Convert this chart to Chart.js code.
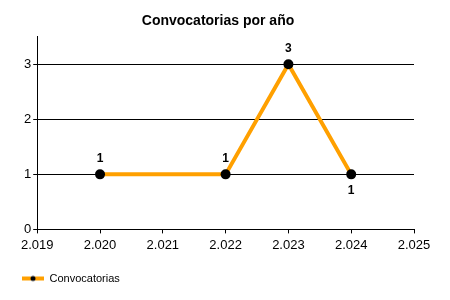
<!DOCTYPE html>
<html>
<head>
<meta charset="utf-8">
<script src="https://cdn.jsdelivr.net/npm/chart.js@4"></script>
<style>
  body { margin: 0; background: #fff; }
  #wrap { width: 450px; height: 300px; }
</style>
</head>
<body>
<div id="wrap"><canvas id="chart" width="450" height="300"></canvas></div>
<script>
// Data
const years = [2020, 2022, 2023, 2024];
const counts = [1, 1, 3, 1];
const seriesName = 'Convocatorias';
const chartTitle = 'Convocatorias por año';

const FONT = "'Liberation Sans', Arial, sans-serif";
const ORANGE = '#FFA000';

// legend icon: orange line with black dot
function legendIcon() {
  const c = document.createElement('canvas');
  c.width = 22; c.height = 8;
  const g = c.getContext('2d');
  g.fillStyle = ORANGE;
  g.fillRect(0, 2, 22, 4);
  g.fillStyle = '#000';
  g.beginPath();
  g.arc(11, 4, 2.5, 0, Math.PI * 2);
  g.fill();
  return c;
}

// draws value labels next to each point
const valueLabels = {
  id: 'valueLabels',
  afterLayout(chart) {
    // nudge the legend toward the left edge
    chart.legend.left -= 10;
    chart.legend.right -= 10;
  },
  afterDatasetsDraw(chart) {
    const ctx = chart.ctx;
    const meta = chart.getDatasetMeta(0);
    ctx.save();
    ctx.font = 'bold 12px ' + FONT;
    ctx.fillStyle = '#000';
    ctx.textAlign = 'center';
    ctx.textBaseline = 'middle';
    meta.data.forEach((pt, i) => {
      const below = i === meta.data.length - 1;
      ctx.fillText(String(counts[i]), pt.x, pt.y + (below ? 16 : -16));
    });
    ctx.restore();
  }
};

const ctx = document.getElementById('chart').getContext('2d');
new Chart(ctx, {
  type: 'line',
  data: {
    datasets: [{
      label: seriesName,
      data: years.map((y, i) => ({ x: y, y: counts[i] })),
      borderColor: ORANGE,
      borderWidth: 4,
      backgroundColor: '#000',
      pointBackgroundColor: '#000',
      pointBorderColor: '#000',
      pointRadius: 5,
      pointBorderWidth: 0,
      tension: 0,
      fill: false
    }]
  },
  plugins: [valueLabels],
  options: {
    responsive: false,
    animation: false,
    layout: { padding: { left: 22, right: 36, top: 4, bottom: 6 } },
    plugins: {
      title: {
        display: true,
        text: chartTitle,
        color: '#000',
        font: { family: FONT, size: 14, weight: 'bold' },
        padding: { top: 9, bottom: 7 }
      },
      legend: {
        position: 'bottom',
        align: 'start',
        labels: {
          color: '#000',
          font: { family: FONT, size: 11 },
          usePointStyle: true,
          pointStyleWidth: 22,
          padding: 10,
          generateLabels: () => [{
            text: seriesName,
            pointStyle: legendIcon(),
            fillStyle: ORANGE,
            strokeStyle: ORANGE,
            lineWidth: 0,
            datasetIndex: 0
          }]
        }
      },
      tooltip: { enabled: false }
    },
    scales: {
      x: {
        type: 'linear',
        min: 2019,
        max: 2025,
        afterFit: scale => { scale.height += 6; },
        ticks: {
          stepSize: 1,
          color: '#000',
          font: { family: FONT, size: 13 },
          padding: 4,
          callback: v => { const s = String(v); return s.slice(0, 1) + '.' + s.slice(1); }
        },
        grid: { drawOnChartArea: false, drawTicks: true, tickLength: 4, color: '#000' },
        border: { color: '#000', width: 1 }
      },
      y: {
        min: 0,
        max: 3.5,
        ticks: {
          stepSize: 1,
          includeBounds: false,
          color: '#000',
          font: { family: FONT, size: 13 },
          padding: 2
        },
        grid: { color: '#000', lineWidth: 1, tickLength: 4 },
        border: { color: '#000', width: 1 }
      }
    }
  }
});
</script>
</body>
</html>
